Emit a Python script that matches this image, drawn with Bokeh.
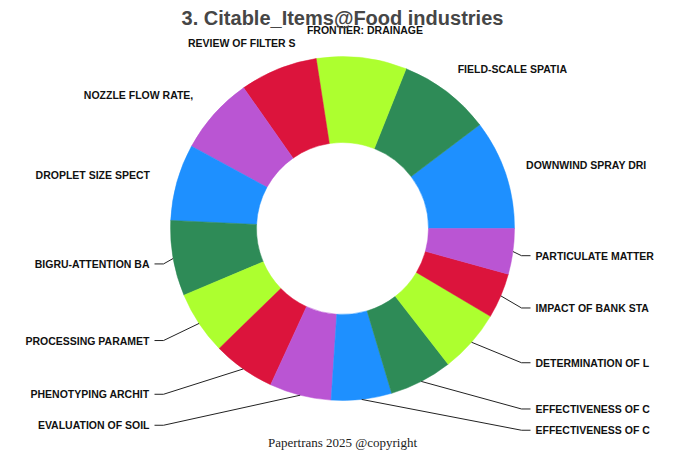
import math
from bokeh.plotting import figure
from bokeh.models import Range1d, ColumnDataSource
from bokeh.core.properties import value
from bokeh.embed import file_html
from bokeh.resources import INLINE

# ---- data (slice shares in degrees of the ring) ----
labels = ["DOWNWIND SPRAY DRI", "FIELD-SCALE SPATIA", "FRONTIER: DRAINAGE",
          "REVIEW OF FILTER S", "NOZZLE FLOW RATE,", "DROPLET SIZE SPECT",
          "BIGRU-ATTENTION BA", "PROCESSING PARAMET", "PHENOTYPING ARCHIT",
          "EVALUATION OF SOIL", "EFFECTIVENESS OF C", "EFFECTIVENESS OF C",
          "DETERMINATION OF L", "IMPACT OF BANK STA", "PARTICULATE MATTER"]
values = [37.1, 31.2, 30.5, 26.3, 26.3, 25.9, 25.5, 21.4, 21.1, 20.9,
          20.4, 21.3, 21.4, 15.3, 15.4]
palette = ["#1E90FF", "#2E8B57", "#ADFF2F", "#DC143C", "#BA55D3"]
title_text = "3. Citable_Items@Food industries"
footer_text = "Papertrans 2025 @copyright"

# ---- layout ----
W, H = 684, 456
CX, CY = 342, 228
R_OUT, R_IN = 172, 86
R_LAB_UP = 200
R_LAB_LOW = 203

p = figure(width=W, height=H, output_backend="svg", toolbar_location=None,
           x_range=Range1d(0, W), y_range=Range1d(0, H),
           min_border=0, outline_line_color=None)
p.axis.visible = False
p.grid.visible = False
p.background_fill_color = "white"
p.border_fill_color = "white"

total = sum(values)
starts, ends, colors, mids = [], [], [], []
acc = 0.0
for i, v in enumerate(values):
    a0 = acc / total * 2 * math.pi
    acc += v
    a1 = acc / total * 2 * math.pi
    starts.append(a0)
    ends.append(a1)
    mids.append((a0 + a1) / 2)
    colors.append(palette[i % len(palette)])

src = ColumnDataSource(dict(start=starts, end=ends, color=colors))
p.annular_wedge(x=CX, y=CY, inner_radius=R_IN, outer_radius=R_OUT,
                start_angle="start", end_angle="end", fill_color="color",
                line_color="color", line_width=0.5, source=src)

# labels & leader lines
tx, ty, ta = [], [], []
lx, ly = [], []
for lab, m in zip(labels, mids):
    c, s = math.cos(m), math.sin(m)
    if s > 0:  # upper half: free labels, no leader line
        y = CY + R_LAB_UP * s
        x = CX + R_LAB_UP * c
        if c > 0.3:
            al = "left"
            x -= 6
        elif c < -0.45:
            al = "right"
        else:
            al = "center"
            if c < -0.2:
                x -= 26
        tx.append(x); ty.append(y); ta.append(al)
    else:
        y = CY + R_LAB_LOW * s
        sign = 1 if c > 0 else -1
        ex, ey = CX + R_OUT * c, CY + R_OUT * s
        elbow = CX + sign * 179
        endx = CX + sign * 188
        lx.append([ex, elbow, endx]); ly.append([ey, y, y])
        tx.append(CX + sign * 193); ty.append(y)
        ta.append("left" if sign > 0 else "right")

p.multi_line(xs=lx, ys=ly, line_color="#222222", line_width=1)
p.text(x=tx, y=ty, text=labels, text_align=ta, text_baseline="middle",
       text_font=value("Liberation Sans"), text_font_style="bold",
       text_font_size="10.5px", text_color="#111111")

# title and footer
p.text(x=[CX], y=[H - 17], text=[title_text], text_align="center",
       text_baseline="middle", text_font=value("Liberation Sans"),
       text_font_style="bold", text_font_size="20px", text_color="#464646")
p.text(x=[CX], y=[H - 442], text=[footer_text], text_align="center",
       text_baseline="middle", text_font=value("Liberation Serif"),
       text_font_size="13px", text_color="#222222")

open("out.html", "w").write(file_html(p, INLINE))
